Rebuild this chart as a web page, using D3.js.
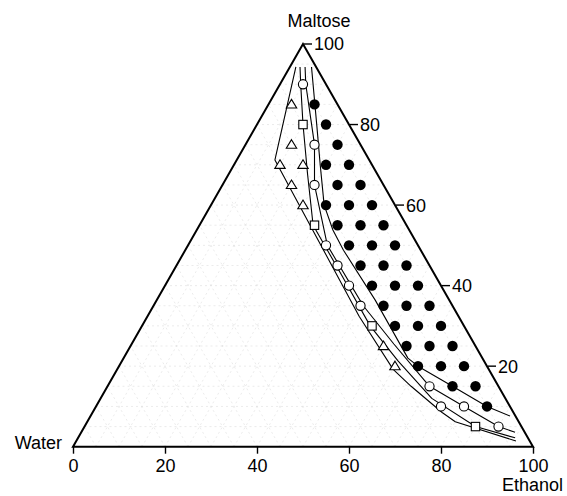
<!DOCTYPE html>
<html><head><meta charset="utf-8">
<script src="https://cdn.jsdelivr.net/npm/d3@7"></script>
<style>
body{margin:0;background:#fff}
svg{display:block}
text{font-family:"Liberation Sans",Arial,Helvetica,sans-serif;font-size:18px;fill:#000}
</style>
</head><body>
<svg id="c" width="567" height="496"></svg>
<script>
// ---- data: [ethanol %, maltose %] (water = 100 - ethanol - maltose)
const bottomTicks = [0, 20, 40, 60, 80, 100];
const rightTicks = [20, 40, 60, 80, 100];
const cornerLabels = ["Water", "Ethanol", "Maltose"];

const filledPts = [
  [10,85],[15,80],[20,75],[20,70],[25,70],[25,65],[30,65],
  [25,60],[30,60],[35,60],[30,55],[35,55],[40,55],
  [35,50],[40,50],[45,50],[40,45],[45,45],[50,45],
  [45,40],[50,40],[55,40],[50,35],[55,35],[60,35],
  [55,30],[60,30],[65,30],[60,25],[65,25],[70,25],
  [65,20],[70,20],[75,20],[75,15],[80,15],[85,10]
];
const openCirclePts = [[5,90],[15,75],[20,65],[30,50],[35,45],[40,40],[45,35],[70,15],[75,10],[80,10],[90,5]];
const squarePts = [[10,80],[25,55],[50,30],[85,5]];
const trianglePts = [[5,85],[10,75],[10,70],[15,70],[15,65],[20,60],[55,25],[60,20]];

const curveF = [[4.7,94.3],[13.1,79.8],[18.8,69.9],[24.6,60],[29.6,53.8],[34.4,48.8],[47.5,36.4],[61.8,22],[65,20],[75,15],[85,10],[91.2,7.6]];
const curveO = [[3.3,94.3],[5.6,90],[12,79.8],[15,75],[20,65],[30.3,50],[35.4,45],[40.5,40],[45.6,35],[57,25.5],[70,15],[80,10],[90,5],[94.3,3.6]];
const curveS = [[2.2,94.3],[4.5,90],[10,80],[17.2,67.6],[24.7,55],[37,42.7],[49.6,30],[60,21.3],[72,12],[85,5],[95,2.2]];
const curveT = [[1.3,94.3],[8.3,71.2],[46,32.4],[60,19.2],[66,15],[76,8.5],[80,6.2],[95.6,1.4]];

// ---- layout
const L = 73, R = 533, B = 446.7, TOP = 44;
const svg = d3.select("#c");
const xs = d3.scaleLinear().domain([0,100]).range([L,R]);   // projected horizontal
const ys = d3.scaleLinear().domain([0,100]).range([B,TOP]); // maltose
const px = d => xs(d[0] + d[1]/2);
const py = d => ys(d[1]);
const line = d3.line().x(px).y(py);

// faint grid (5% lattice)
const grid = svg.append("g").attr("stroke","#dedede").attr("stroke-width",0.6)
  .attr("stroke-dasharray","2,3").attr("fill","none");
const steps = d3.range(5,100,5);
steps.forEach(k=>{
  grid.append("path").attr("d", line([[0,k],[100-k,k]]));
  grid.append("path").attr("d", line([[k,0],[k,100-k]]));
  grid.append("path").attr("d", line([[100-k,0],[0,100-k]]));
});

// outline
svg.append("path").attr("d", line([[0,0],[100,0],[0,100],[0,0]]) + "Z")
  .attr("fill","none").attr("stroke","#000").attr("stroke-width",2).attr("stroke-linejoin","miter");

// bottom axis
const ax = svg.append("g").attr("transform",`translate(0,${B})`)
  .call(d3.axisBottom(xs).tickValues(bottomTicks).tickSize(7).tickSizeOuter(0).tickPadding(6));
ax.select(".domain").remove();
ax.selectAll(".tick line").attr("stroke","#000").attr("stroke-width",1.4);
ax.selectAll(".tick text").attr("font-size",18).attr("font-family",'"Liberation Sans",Arial,sans-serif').attr("fill","#000");

// right-edge maltose ticks
const rt = svg.append("g");
rightTicks.forEach(v=>{
  const p = [100-v, v];
  const x0 = px(p), y0 = py(p);
  rt.append("line").attr("x1",x0+1).attr("x2",x0+9).attr("y1",y0).attr("y2",y0)
    .attr("stroke","#000").attr("stroke-width",1.4);
  rt.append("text").attr("x",x0+11).attr("y",y0).attr("dy","0.36em").text(v);
});

// curves
[curveF, curveO, curveS, curveT].forEach(c=>{
  svg.append("path").attr("d", line(c)).attr("fill","none")
    .attr("stroke","#000").attr("stroke-width",1.1).attr("stroke-linejoin","round");
});

// markers
svg.append("g").selectAll("circle").data(filledPts).join("circle")
  .attr("cx",px).attr("cy",py).attr("r",5.2).attr("fill","#000");
svg.append("g").selectAll("circle").data(openCirclePts).join("circle")
  .attr("cx",px).attr("cy",py).attr("r",4.6).attr("fill","#fff").attr("stroke","#000").attr("stroke-width",1.1);
svg.append("g").selectAll("rect").data(squarePts).join("rect")
  .attr("x",d=>px(d)-4.2).attr("y",d=>py(d)-4.2).attr("width",8.4).attr("height",8.4)
  .attr("fill","#fff").attr("stroke","#000").attr("stroke-width",1.1);
svg.append("g").selectAll("path").data(trianglePts).join("path")
  .attr("d",d=>{const x=px(d),y=py(d);return `M${x},${y-5}L${x+5.2},${y+3.6}L${x-5.2},${y+3.6}Z`;})
  .attr("fill","#fff").attr("stroke","#000").attr("stroke-width",1.1).attr("stroke-linejoin","miter");

// corner labels
svg.append("text").attr("x",62).attr("y",449).attr("text-anchor","end").text(cornerLabels[0]);
svg.append("text").attr("x",502).attr("y",491).attr("text-anchor","start").text(cornerLabels[1]);
svg.append("text").attr("x",319).attr("y",27).attr("text-anchor","middle").text(cornerLabels[2]);
</script>
</body></html>
